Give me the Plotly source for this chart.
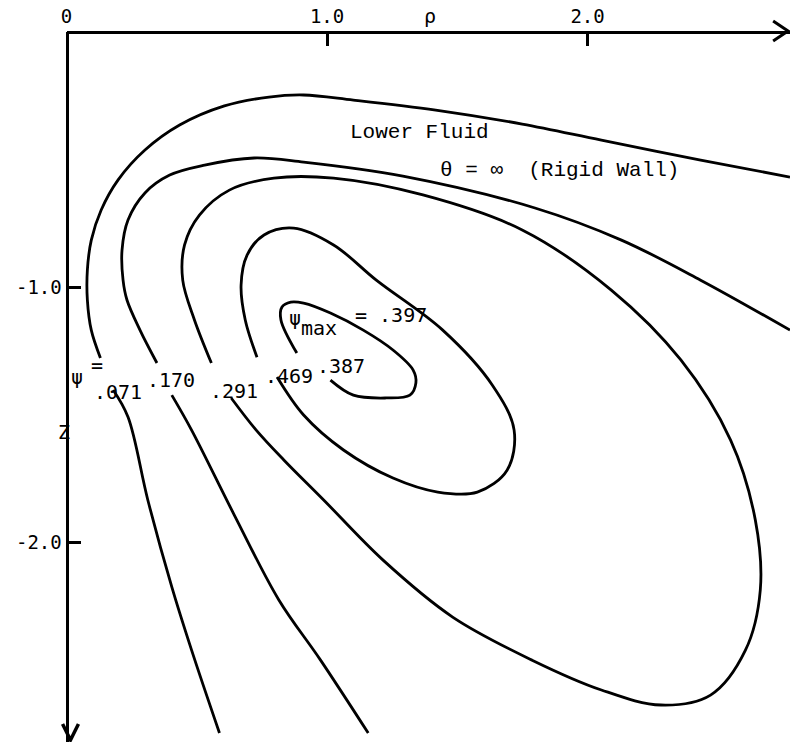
import plotly.graph_objects as go

# ---- data: streamlines (rho, z) ----
psi_071_upper_rho = [0.130, 0.095, 0.080, 0.080, 0.095, 0.133, 0.198, 0.301, 0.434, 0.606, 0.777, 0.910, 1.101, 1.417, 1.749, 2.053, 2.434, 2.777]
psi_071_upper_z   = [-1.278, -1.169, -1.051, -0.933, -0.816, -0.698, -0.580, -0.463, -0.365, -0.290, -0.255, -0.247, -0.267, -0.306, -0.361, -0.424, -0.502, -0.569]
psi_071_lower_rho = [0.179, 0.236, 0.312, 0.404, 0.480, 0.587]
psi_071_lower_z   = [-1.404, -1.510, -1.835, -2.176, -2.424, -2.749]

psi_170_upper_rho = [0.347, 0.282, 0.232, 0.217, 0.213, 0.236, 0.301, 0.396, 0.530, 0.720, 0.910, 1.291, 1.798, 2.130, 2.434, 2.777]
psi_170_upper_z   = [-1.298, -1.169, -1.051, -0.973, -0.855, -0.737, -0.631, -0.561, -0.522, -0.494, -0.510, -0.565, -0.690, -0.816, -0.973, -1.169]
psi_170_lower_rho = [0.404, 0.480, 0.644, 0.815, 0.975, 1.158]
psi_170_lower_z   = [-1.424, -1.561, -1.894, -2.227, -2.463, -2.749]

psi_291_rho = [0.556, 0.491, 0.446, 0.453, 0.510, 0.625, 0.796, 1.025, 1.368, 1.749, 2.091, 2.358, 2.549, 2.644, 2.663, 2.606, 2.472, 2.282, 2.053, 1.787, 1.482, 1.215, 0.987, 0.834, 0.728, 0.632]
psi_291_z   = [-1.298, -1.129, -0.973, -0.835, -0.718, -0.620, -0.573, -0.573, -0.639, -0.776, -1.012, -1.286, -1.600, -1.914, -2.188, -2.424, -2.600, -2.639, -2.580, -2.463, -2.294, -2.071, -1.835, -1.678, -1.561, -1.435]

psi_469_rho = [0.731, 0.686, 0.670, 0.693, 0.758, 0.872, 1.025, 1.189, 1.444, 1.634, 1.718, 1.691, 1.577, 1.425, 1.253, 1.063, 0.910, 0.808]
psi_469_z   = [-1.275, -1.129, -0.992, -0.875, -0.796, -0.769, -0.835, -0.973, -1.169, -1.384, -1.561, -1.718, -1.804, -1.804, -1.749, -1.639, -1.502, -1.353]

psi_387_rho = [0.884, 0.823, 0.827, 0.861, 0.910, 1.013, 1.139, 1.253, 1.330, 1.341, 1.318, 1.227, 1.101, 1.013]
psi_387_z   = [-1.259, -1.129, -1.078, -1.059, -1.063, -1.102, -1.169, -1.247, -1.325, -1.376, -1.424, -1.435, -1.424, -1.365]

# contour labels
psi_labels     = [".071", ".170", ".291", ".469", ".387"]
psi_label_rho  = [0.198, 0.400, 0.644, 0.853, 1.055]
psi_label_z    = [-1.412, -1.365, -1.408, -1.349, -1.310]

# axis ticks
x_tickvals = [0, 1, 2]
x_ticktext = ["0", "1.0", "2.0"]
y_tickvals = [-1, -2]
y_ticktext = ["-1.0", "-2.0"]

X_MAX = 2.777
Y_MIN = -2.784

W, H = 790, 742
LINE = dict(color="black", width=2.8)

fig = go.Figure()
segments = [
    (psi_071_upper_rho, psi_071_upper_z),
    (psi_071_lower_rho, psi_071_lower_z),
    (psi_170_upper_rho, psi_170_upper_z),
    (psi_170_lower_rho, psi_170_lower_z),
    (psi_291_rho, psi_291_z),
    (psi_469_rho, psi_469_z),
    (psi_387_rho, psi_387_z),
]
for r, z in segments:
    fig.add_trace(go.Scatter(x=r, y=z, mode="lines", line=dict(shape="spline", smoothing=1.0, **LINE),
                             hoverinfo="skip", showlegend=False))

mono = "DejaVu Sans Mono"
courier = "Liberation Mono"

ann = []
for t, r, z in zip(psi_labels, psi_label_rho, psi_label_z):
    ann.append(dict(x=r, y=z, text=t, showarrow=False, font=dict(family=mono, size=20, color="black")))
ann += [
    dict(x=0.042, y=-1.353, text="ψ", showarrow=False, font=dict(family=mono, size=20, color="black")),
    dict(x=0.118, y=-1.305, text="=", showarrow=False, font=dict(family=mono, size=20, color="black")),
    dict(x=0.876, y=-1.122, text="ψ", showarrow=False, font=dict(family=mono, size=20, color="black")),
    dict(x=0.971, y=-1.160, text="max", showarrow=False, font=dict(family=mono, size=20, color="black")),
    dict(x=1.246, y=-1.110, text="= .397", showarrow=False, font=dict(family=mono, size=20, color="black")),
    dict(x=1.356, y=-0.396, text="Lower Fluid", showarrow=False, font=dict(family=courier, size=21, color="black")),
    dict(x=1.893, y=-0.545, text="θ = ∞  (Rigid Wall)", showarrow=False, font=dict(family=courier, size=21, color="black")),
    dict(x=427 / W, y=1 - 2 / H, xref="paper", yref="paper", yanchor="top", text="ρ", showarrow=False,
         font=dict(family=mono, size=20, color="black")),
    dict(x=50 / W, y=1 - 432 / H, xref="paper", yref="paper", text="Z", showarrow=False,
         font=dict(family=mono, size=20, color="black")),
]

# arrowheads (open chevrons) at the axis ends
def P(x, y):
    return f"{x / W:.5f},{1 - y / H:.5f}"

shapes = [
    dict(type="path", xref="paper", yref="paper",
         path=f"M {P(773, 21)} L {P(788, 31)} L {P(773, 41)}", line=dict(color="black", width=3)),
    dict(type="path", xref="paper", yref="paper",
         path=f"M {P(57, 724)} L {P(65, 740)} L {P(73, 724)}", line=dict(color="black", width=3.5)),
]

fig.update_layout(
    width=W, height=H,
    margin=dict(l=0, r=0, t=0, b=0, pad=0),
    paper_bgcolor="white", plot_bgcolor="white",
    xaxis=dict(range=[0, X_MAX], domain=[61 / W, 1], anchor="free", position=1 - 32 / H, side="top",
               showgrid=False, zeroline=False, showline=True, linecolor="black", linewidth=3,
               ticks="inside", ticklen=12, tickwidth=3, tickcolor="black",
               tickvals=x_tickvals, ticktext=x_ticktext,
               tickfont=dict(family=mono, size=19, color="black")),
    yaxis=dict(range=[Y_MIN, 0], domain=[0, 1 - 32 / H], anchor="free", position=61 / W, side="left",
               showgrid=False, zeroline=False, showline=True, linecolor="black", linewidth=3,
               ticks="inside", ticklen=12, tickwidth=3, tickcolor="black",
               tickvals=y_tickvals, ticktext=y_ticktext,
               tickfont=dict(family=mono, size=19, color="black")),
    annotations=ann,
    shapes=shapes,
)

fig.write_html("out.html",
               config={"displayModeBar": False},
               post_script="document.body.style.margin='0px';document.body.style.padding='0px';"
                           "document.body.style.overflow='hidden';")
